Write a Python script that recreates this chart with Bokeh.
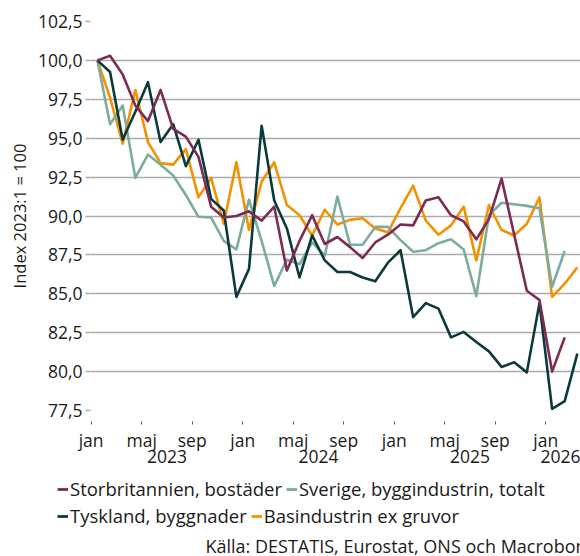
from bokeh.plotting import figure
from bokeh.layouts import column
from bokeh.models import (FixedTicker, CustomJSTickFormatter, LinearAxis, Legend,
                          LegendItem, Label, Range1d)
from bokeh.embed import file_html
from bokeh.resources import INLINE

# month index 0 = jan 2023
storbritannien = [100.0, 100.3, 99.1, 97.1, 96.1, 98.1, 95.6, 95.1, 93.8, 90.6,
                  89.9, 90.0, 90.3, 89.7, 90.6, 86.5, 88.4, 90.05, 88.2, 88.65,
                  88.0, 87.3, 88.3, 88.8, 89.45, 89.4, 91.0, 91.2, 90.05, 89.65,
                  88.5, 89.8, 92.4, 88.8, 85.2, 84.6, 80.0, 82.2]
sverige = [100.0, 95.9, 97.1, 92.45, 93.95, 93.3, 92.6, 91.35, 89.95, 89.9,
           88.4, 87.85, 91.05, 88.4, 85.5, 87.2, 86.9, 88.3, 87.45, 91.25,
           88.15, 88.15, 89.3, 89.3, 88.45, 87.7, 87.8, 88.25, 88.5, 87.85,
           84.85, 90.05, 90.85, 90.75, 90.65, 90.5, 85.45, 87.75]
tyskland = [100.0, 99.25, 94.9, 96.7, 98.6, 94.75, 95.9, 93.2, 94.9, 91.1,
            90.35, 84.8, 86.6, 95.8, 91.0, 89.2, 86.05, 88.75, 87.15, 86.4,
            86.4, 86.05, 85.8, 87.0, 87.8, 83.5, 84.4, 84.05, 82.2, 82.55,
            81.9, 81.3, 80.3, 80.6, 79.95, 84.4, 77.6, 78.1, 81.15]
basindustrin = [100.0, 97.6, 94.65, 98.1, 94.75, 93.4, 93.3, 94.3, 91.2, 92.45,
                89.5, 93.45, 89.1, 92.2, 93.45, 90.7, 90.05, 88.75, 90.4, 89.45,
                89.75, 89.85, 89.2, 88.95, 90.5, 91.95, 89.7, 88.8, 89.4, 90.6,
                87.15, 90.7, 89.1, 88.75, 89.5, 91.2, 84.8, 85.65, 86.7]

names = ["Storbritannien, bostäder", "Sverige, byggindustrin, totalt",
         "Tyskland, byggnader", "Basindustrin ex gruvor"]
colors = ["#7c2b52", "#7dac9f", "#0b3a3d", "#f39200"]

month_tick_pos = [0, 4, 8, 12, 16, 20, 24, 28, 32, 36]
month_tick_labels = ["jan", "maj", "sep", "jan", "maj", "sep", "jan", "maj", "sep", "jan"]
year_tick_pos = [6, 18, 30, 37.5]
year_tick_labels = ["2023", "2024", "2025", "2026"]
y_ticks = [77.5, 80.0, 82.5, 85.0, 87.5, 90.0, 92.5, 95.0, 97.5, 100.0, 102.5]
source_text = "Källa: DESTATIS, Eurostat, ONS och Macrobond"

FONT = "Open Sans"
FS = "17.5px"
LFS = "18.5px"
TXT = "#1a1a1a"
GRID = "#ababab"


def mid_month(vals):
    return [i + 0.5 for i in range(len(vals))]


p = figure(width=580, height=472, x_range=Range1d(-0.05, 38.75),
           y_range=Range1d(77.5, 102.5), output_backend="svg",
           toolbar_location=None, min_border_left=90, min_border_right=0,
           min_border_top=21, min_border_bottom=62)
p.frame_align = False
p.outline_line_color = None
p.xgrid.visible = False
p.ygrid.grid_line_color = GRID
p.ygrid.grid_line_width = 1.5
p.ygrid.ticker = FixedTicker(ticks=y_ticks)

ya = p.yaxis[0]
ya.ticker = FixedTicker(ticks=y_ticks)
ya.formatter = CustomJSTickFormatter(code="return tick.toFixed(1).replace('.', ',');")
ya.axis_line_color = None
ya.major_tick_out = 5
ya.major_tick_in = 0
ya.major_tick_line_color = GRID
ya.major_tick_line_width = 1.5
ya.minor_tick_line_color = None
ya.major_label_standoff = 3
ya.major_label_text_font = FONT
ya.major_label_text_font_size = FS
ya.major_label_text_color = TXT
ya.axis_label = "Index 2023:1 = 100"
ya.axis_label_text_font = FONT
ya.axis_label_text_font_size = "16.5px"
ya.axis_label_text_font_style = "normal"
ya.axis_label_text_color = TXT
ya.axis_label_standoff = 4

xa = p.xaxis[0]
xa.ticker = FixedTicker(ticks=month_tick_pos)
xa.formatter = CustomJSTickFormatter(
    args=dict(pos=month_tick_pos, labels=month_tick_labels),
    code="const i = pos.indexOf(Math.round(tick)); return i >= 0 ? labels[i] : '';")
xa.axis_line_color = None
xa.major_tick_in = -11
xa.major_tick_out = 14
xa.major_tick_line_color = "#555555"
xa.major_tick_line_width = 1
xa.minor_tick_line_color = None
xa.major_label_standoff = 3
xa.major_label_text_font = FONT
xa.major_label_text_font_size = FS
xa.major_label_text_color = TXT

yr = LinearAxis(ticker=FixedTicker(ticks=year_tick_pos),
                formatter=CustomJSTickFormatter(
                    args=dict(pos=year_tick_pos, labels=year_tick_labels),
                    code="for (let k = 0; k < pos.length; k++) { if (Math.abs(pos[k] - tick) < 0.01) return labels[k]; } return '';"),
                axis_line_color=None, major_tick_line_color=None,
                minor_tick_line_color=None, major_tick_in=0, major_tick_out=0,
                major_label_standoff=-5, major_label_text_font=FONT,
                major_label_text_font_size=FS, major_label_text_color=TXT)
p.add_layout(yr, "below")

series = [storbritannien, sverige, tyskland, basindustrin]
for idx in [3, 1, 2, 0]:
    vals = series[idx]
    p.line(mid_month(vals), vals, line_color=colors[idx], line_width=2.6,
           line_join="round")

# legend + source strip (pixel-like ranges)
p2 = figure(width=580, height=84, x_range=Range1d(0, 580), y_range=Range1d(0, 84),
            output_backend="svg", toolbar_location=None, min_border=0,
            x_axis_type=None, y_axis_type=None)
p2.frame_align = False
p2.outline_line_color = None
p2.grid.visible = False

nan = float("nan")
dummy = {}
for idx in range(4):
    dummy[idx] = p2.line(x=[nan], y=[nan], line_color=colors[idx], line_width=2.8)


def make_legend(ids, loc):
    return Legend(items=[LegendItem(label=names[k], renderers=[dummy[k]]) for k in ids],
                  orientation="horizontal", location=loc, padding=0, margin=0,
                  spacing=4, glyph_width=11, glyph_height=14, label_standoff=2,
                  label_height=14, label_text_font=FONT, label_text_font_size=LFS,
                  label_text_color=TXT, border_line_color=None,
                  background_fill_alpha=0)


p2.add_layout(make_legend([0, 1], (57, 55)), "center")
p2.add_layout(make_legend([2, 3], (57, 28)), "center")
p2.add_layout(Label(x=205, y=11, text=source_text, text_font=FONT,
                    text_font_size="18px", text_color=TXT, text_baseline="middle",
                    text_align="left"))

layout = column(p, p2, spacing=0)
open("out.html", "w").write(file_html(layout, INLINE))
